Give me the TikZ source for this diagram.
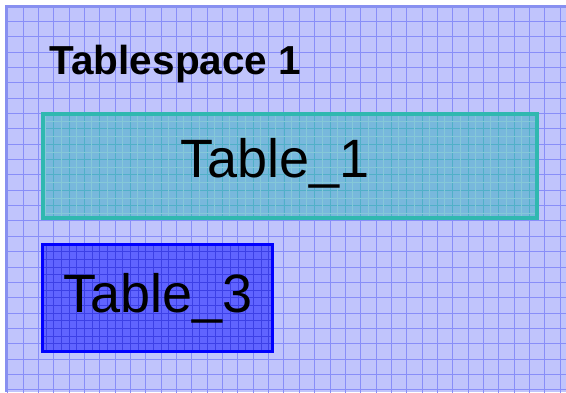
\documentclass[tikz,border=0pt]{standalone}
\usepackage{fontspec}
\setmainfont{Liberation Sans}
\definecolor{bgc}{RGB}{192,196,252}
\definecolor{gridc}{RGB}{136,142,248}
\definecolor{framec}{RGB}{136,144,240}
\definecolor{tealb}{RGB}{48,184,176}
\definecolor{tealf}{RGB}{114,184,218}
\definecolor{tealg}{RGB}{80,176,200}
\definecolor{bluef}{RGB}{96,100,255}
\definecolor{blueg}{RGB}{60,64,230}
\tikzset{
  tbox/.style={draw, inner sep=0pt},
  tlabel/.style={anchor=base west, inner sep=0pt, font=\fontsize{54}{54}\selectfont},
}
\newcommand{\mygrid}[5]{% x0 y0 step nx ny
  \foreach \i in {0,...,#4} {\draw (#1+\i*#3,0) -- (#1+\i*#3,400);}
  \foreach \j in {0,...,#5} {\draw (0,#2+\j*#3) -- (570,#2+\j*#3);}
}
\begin{document}
\begin{tikzpicture}[x=1pt,y=-1pt]
\useasboundingbox (0,0) rectangle (566,392);
\fill[white] (0,0) rectangle (566,392);
\fill[bgc] (5,5) rectangle (566,392);
\begin{scope}[gridc, line width=0.9pt]
\clip (5,5) rectangle (566,392);
\mygrid{7.6}{6}{15.35}{37}{26}
\end{scope}
\draw[framec, line width=3pt] (6.5,392) -- (6.5,6.5) -- (566,6.5);
\node[anchor=base west, font=\bfseries\fontsize{40.5}{40.5}\selectfont, inner sep=0pt] (ts) at (49.5,74) {Tablespace 1};
% Table_1
\fill[tealf, opacity=0.92] (41,113) rectangle (539,219);
\begin{scope}
\clip (41,113) rectangle (539,219);
\begin{scope}[tealg, line width=0.8pt]\mygrid{7.6}{6}{15.35}{37}{26}\end{scope}
\begin{scope}[tealg!70!white, line width=0.6pt]\mygrid{14.8}{13.7}{15.35}{37}{26}\end{scope}
\end{scope}
\node[tbox, draw=tealb, line width=4pt, minimum width=494pt, minimum height=104pt] (t1) at (290,166) {};
\node[tlabel] (t1l) at (180.5,177) {Table\_1};
% Table_3
\fill[bluef] (43,245) rectangle (273,351);
\begin{scope}
\clip (43,245) rectangle (273,351);
\begin{scope}[blueg, line width=0.6pt]\mygrid{7.6}{6}{7.675}{75}{52}\end{scope}
\end{scope}
\node[tbox, draw=blue, line width=3pt, minimum width=230pt, minimum height=107pt] (t3) at (157.5,298) {};
\node[tlabel] (t3l) at (63,312) {Table\_3};
\end{tikzpicture}
\end{document}
